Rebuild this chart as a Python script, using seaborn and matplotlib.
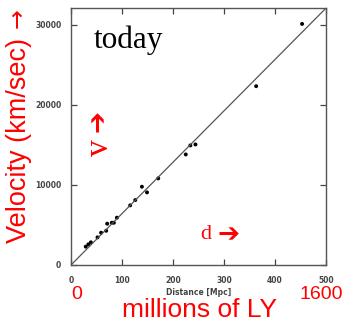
import matplotlib
matplotlib.use("Agg")
import matplotlib.pyplot as plt
import seaborn as sns
import pandas as pd

# Hubble diagram data
distance_mpc = [29, 34, 39, 52, 59, 69, 71, 80, 84, 90, 116, 126, 139, 149, 171,
                225, 234, 244, 363, 453]
velocity_kms = [2290, 2580, 2830, 3450, 4030, 4280, 5160, 5280, 5280, 5910, 7450,
                8110, 9780, 9070, 10820, 13810, 14940, 15060, 22340, 30120]
fit_x = [0, 500]
fit_y = [0, 32100]
x_ticks = [0, 100, 200, 300, 400, 500]
y_ticks = [0, 10000, 20000, 30000]

df = pd.DataFrame({"d": distance_mpc, "v": velocity_kms})
fit = pd.DataFrame({"d": fit_x, "v": fit_y})

sns.set_style("ticks")
plt.rcParams["font.family"] = ["DejaVu Sans"]

fig = plt.figure(figsize=(3.47, 3.23), dpi=100)
ax = fig.add_axes([0.2046, 0.1796, 0.735, 0.7954])

sns.lineplot(data=fit, x="d", y="v", ax=ax, color="#555555", linewidth=0.9)
sns.scatterplot(data=df, x="d", y="v", ax=ax, color="black", s=8, edgecolor="none")

ax.set_xlim(0, 500)
ax.set_ylim(0, 32100)
ax.set_xticks(x_ticks)
ax.set_yticks(y_ticks)
ax.tick_params(direction="in", length=4, width=0.9, colors="#444444",
               labelsize=5.5, top=True, right=True)
ax.tick_params(axis="x", pad=8)
ax.tick_params(axis="y", pad=7)
for lab in ax.get_xticklabels() + ax.get_yticklabels():
    lab.set_fontweight("bold")
for s in ax.spines.values():
    s.set_color("#555555")
    s.set_linewidth(1.0)
ax.set_xlabel("Distance [Mpc]", fontsize=5.5, color="#444444", labelpad=2,
              fontweight="bold")
ax.set_ylabel("")

red = "#ff0000"
ax.text(0.09, 0.844, "today", transform=ax.transAxes, fontsize=22.5,
        family="Liberation Serif", color="black", ha="left", va="baseline")
ax.text(0.114, 0.457, "v", transform=ax.transAxes, fontsize=24,
        family="Liberation Serif", color=red, rotation=90, ha="center", va="center")
ax.text(0.11, 0.56, "\u2794", transform=ax.transAxes, fontsize=19,
        color=red, rotation=90, ha="center", va="center", fontweight="bold")
ax.text(0.527, 0.117, "d", transform=ax.transAxes, fontsize=16,
        family="Liberation Serif", color=red, ha="center", va="center")
ax.text(0.616, 0.115, "\u2794", transform=ax.transAxes, fontsize=19,
        color=red, ha="center", va="center", fontweight="bold")

fig.text(0.055, 0.565, "Velocity (km/sec)", fontsize=19.5, color=red,
         family="Liberation Sans", rotation=90, ha="center", va="center")
fig.text(0.05, 0.944, "\u2192", fontsize=17, color=red, family="DejaVu Sans",
         rotation=90, ha="center", va="center")
fig.text(0.222, 0.088, "0", fontsize=14, color=red, family="Liberation Sans",
         ha="center", va="center")
fig.text(0.927, 0.088, "1600", fontsize=14, color=red, family="Liberation Sans",
         ha="center", va="center")
fig.text(0.575, 0.04, "millions of LY", fontsize=19, color=red,
         family="Liberation Sans", ha="center", va="center")

fig.savefig("out.png", dpi=100)
